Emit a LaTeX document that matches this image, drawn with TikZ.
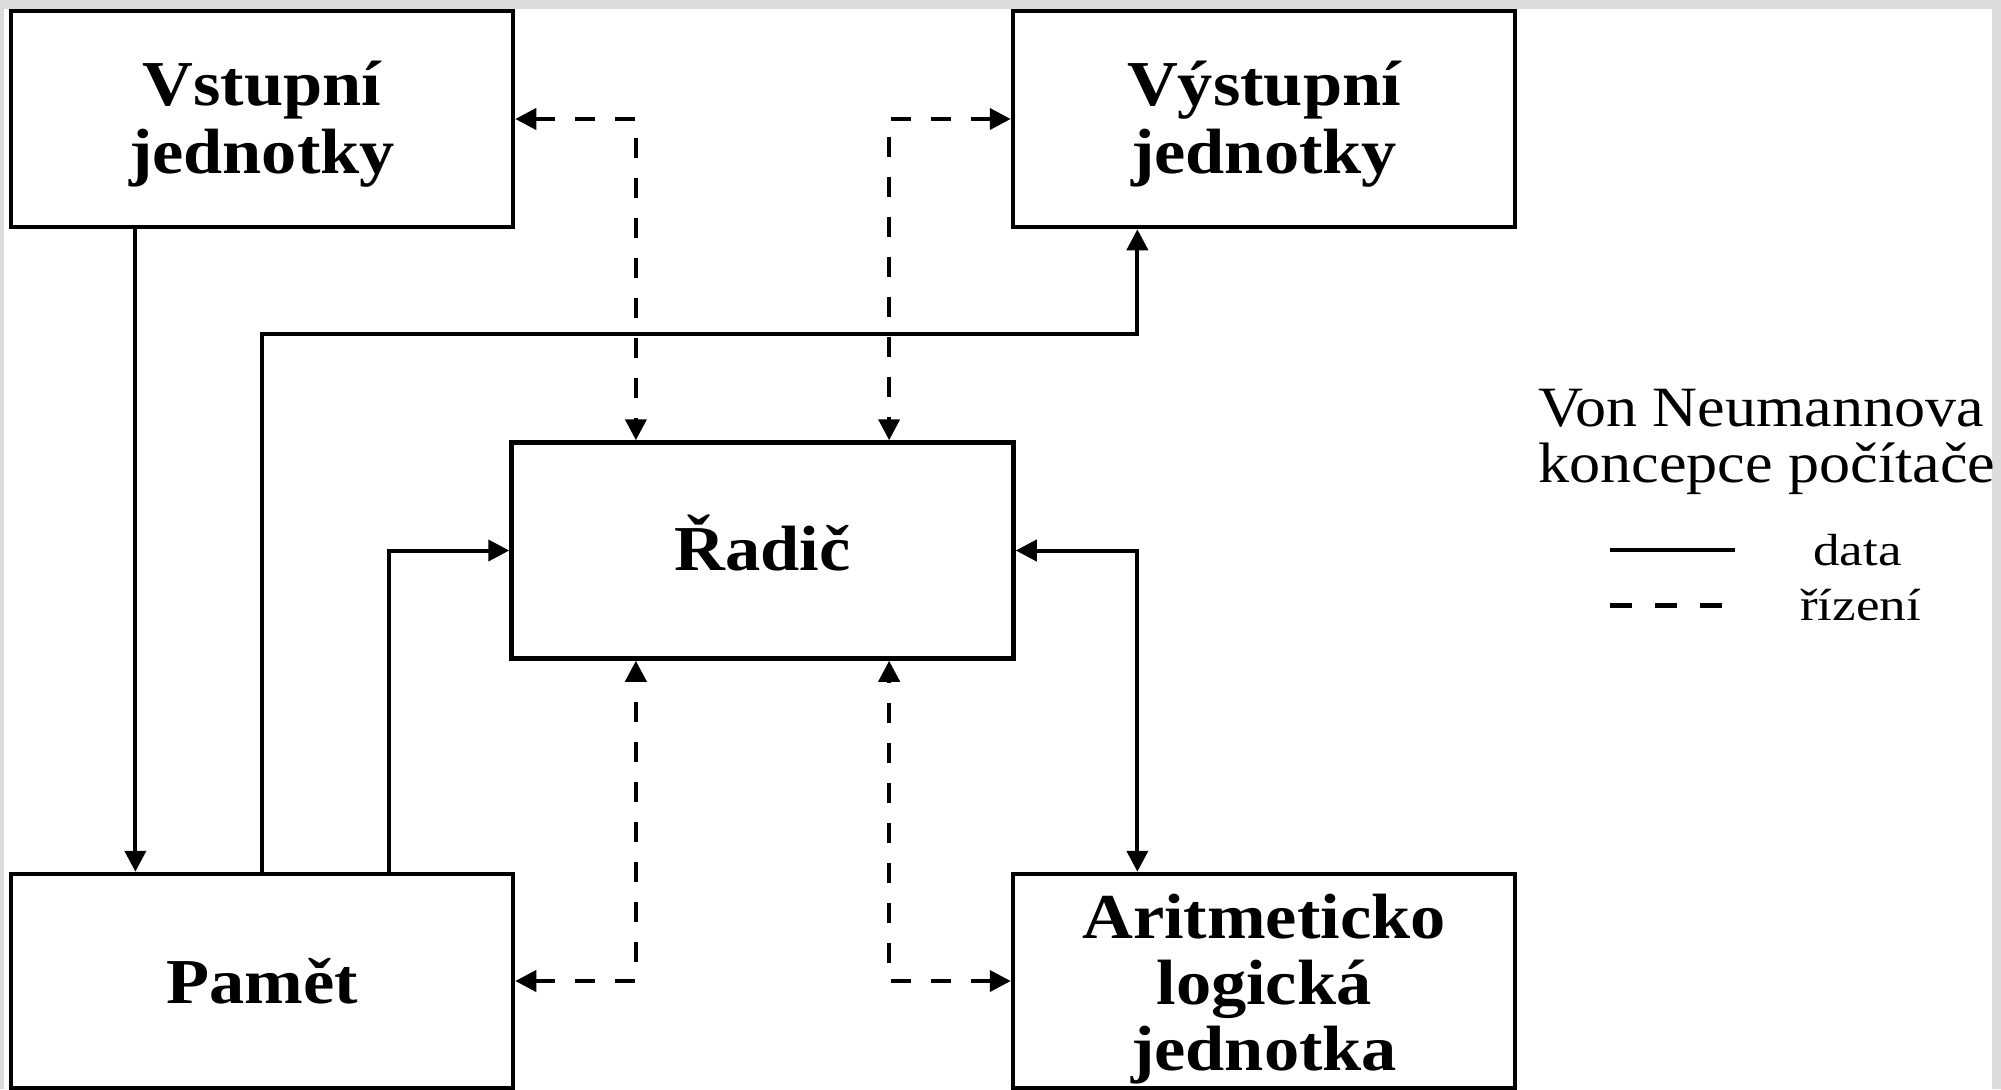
\documentclass[tikz,border=0pt]{standalone}
\usepackage{fontspec}
\setmainfont{Liberation Serif}
\usetikzlibrary{arrows.meta,calc}
\definecolor{pagegray}{RGB}{220,220,220}

\begin{document}
\begin{tikzpicture}[x=1pt,y=-1pt,
  unitbox/.style={draw,line width=4.5pt,minimum width=502pt,minimum height=216pt,inner sep=0pt},
  lowbox/.style={unitbox,minimum height=214pt},
  boxtext/.style={font=\fontsize{64}{68}\selectfont\bfseries,align=center,inner sep=0pt,xscale=1.1},
  legtitle/.style={font=\fontsize{57}{56}\selectfont,align=left,inner sep=0pt,xscale=1.09},
  legitem/.style={font=\fontsize{45}{50}\selectfont,inner sep=0pt,xscale=1.18},
  data/.style={line width=4pt},
  ctrl/.style={line width=4pt,dash pattern=on 20pt off 20pt},
  >={Triangle[length=21pt,width=21pt]},
]
\useasboundingbox (0,0) rectangle (2001,1089);
% page and frame
\fill[pagegray] (0,0) rectangle (2001,1089);
\fill[white] (4,9) rectangle (1992,1089);

% units
\node[unitbox] (vst) at (262,119) {};
\node[unitbox] (vys) at (1264,119) {};
\node[unitbox] (rad) at (762.5,550.5) {};
\node[lowbox] (pam) at (262,981) {};
\node[lowbox] (alu) at (1264,981) {};

% unit labels (base anchor sits on the last line)
\node[boxtext,anchor=base] (tvst) at (262,173) {Vstupní\\jednotky};
\node[boxtext,anchor=base] (tvys) at (1264,173) {Výstupní\\jednotky};
\node[boxtext,anchor=base] (trad) at (762.5,570) {Řadič};
\node[boxtext,anchor=base] (tpam) at (262,1003) {Pamět};
\node[boxtext,anchor=base,font=\fontsize{64}{66}\selectfont\bfseries] (talu) at (1264,1070) {Aritmeticko\\logická\\jednotka};

% data paths
\draw[data,->] ($(vst.south west)!.25!(vst.south east)$) -- ($(pam.north west)!.25!(pam.north east)$);
\draw[data,->] (pam.north) -- (pam.north |- 0,334) -| ($(vys.south west)!.25!(vys.south east)$);
\draw[data,->] ($(pam.north west)!.75!(pam.north east)$) |- (rad.west);
\draw[data,<->] (rad.east) -| ($(alu.north west)!.25!(alu.north east)$);

% control paths
\draw[ctrl,<->] (vst.east) -| ($(rad.north west)!.25!(rad.north east)$);
\draw[ctrl,<->] (vys.west) -| ($(rad.north west)!.75!(rad.north east)$);
\draw[ctrl,<->] (pam.east) -| ($(rad.south west)!.25!(rad.south east)$);
\draw[ctrl,<->] (alu.west) -| ($(rad.south west)!.75!(rad.south east)$);

% legend
\node[legtitle,anchor=base west] (ltitle) at (1538,482) {Von Neumannova\\koncepce počítače};
\coordinate (dataA) at (1610,550);
\coordinate (dataB) at (1735,550);
\coordinate (ctrlA) at (1610,605);
\coordinate (ctrlB) at (1722,605);
\draw[line width=4.5pt] (dataA) -- (dataB);
\draw[line width=5pt,dash pattern=on 22pt off 23pt] (ctrlA) -- (ctrlB);
\node[legitem,anchor=base west] (ldata) at (1813,565) {data};
\node[legitem,anchor=base west] (lctrl) at (1800,620) {řízení};
\end{tikzpicture}
\end{document}
